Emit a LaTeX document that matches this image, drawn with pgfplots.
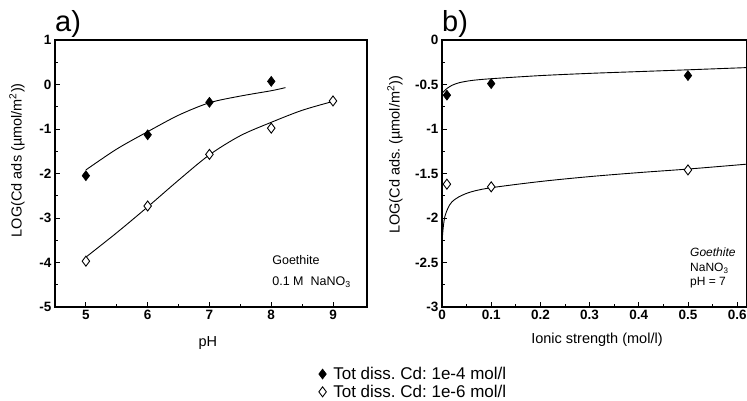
\documentclass[border=0pt]{standalone}
\usepackage{pgfplots}
\pgfplotsset{compat=1.18}
\usepackage{fontspec}
\setmainfont{Liberation Sans}
\frenchspacing

\pgfplotstableread{
x y
5 -2.05
6 -1.13
7 -0.40
8 0.07
}\aFilled
\pgfplotstableread{
x y
5 -3.97
6 -2.73
7 -1.57
8 -0.98
9 -0.37
}\aOpen
\pgfplotstableread{
x y
5 -1.92
5.5 -1.45
6 -1.06
6.5 -0.69
7 -0.41
7.5 -0.26
8 -0.14
8.23 -0.07
}\aFilledFit
\pgfplotstableread{
x y
5 -3.88
5.5 -3.33
6 -2.75
6.5 -2.15
7 -1.58
7.5 -1.15
8 -0.85
8.5 -0.58
9 -0.38
}\aOpenFit
\pgfplotstableread{
x y
0.01 -0.62
0.1 -0.49
0.5 -0.40
}\bFilled
\pgfplotstableread{
x y
0.01 -1.62
0.1 -1.65
0.5 -1.46
}\bOpen
\pgfplotstableread{
x y
0.0 -0.60
0.005 -0.57
0.01 -0.545
0.02 -0.51
0.035 -0.48
0.06 -0.455
0.1 -0.435
0.2 -0.40
0.3 -0.375
0.4 -0.355
0.5 -0.335
0.62 -0.31
}\bFilledFit
\pgfplotstableread{
x y
0.001 -2.2
0.003 -2.08
0.006 -1.98
0.012 -1.89
0.02 -1.82
0.035 -1.76
0.06 -1.705
0.1 -1.66
0.2 -1.59
0.3 -1.535
0.4 -1.49
0.5 -1.45
0.62 -1.395
}\bOpenFit

\begin{document}
\begin{tikzpicture}
\useasboundingbox (0,0) rectangle (747pt,401pt);
\pgfplotsset{
  mystyle/.style={
    scale only axis, height=267pt,
    clip mode=individual,
    axis line style={line width=1.2pt},
    tick align=inside, xtick pos=bottom, ytick pos=left,
    major tick length=5pt, minor tick length=3pt,
    every tick/.style={black, line width=0.9pt},
    minor tick num=1,
    /pgf/number format/assume math mode=true,
    ticklabel style={font=\fontsize{13.5}{15}\selectfont\bfseries},
    label style={font=\fontsize{14.5}{17}\selectfont},
  },
  fitline/.style={black, line width=0.9pt, smooth, no marks},
  filledmk/.style={only marks, mark=diamond*, mark size=5pt, mark options={fill=black, draw=black, line width=0.6pt}},
  openmk/.style={only marks, mark=diamond*, mark size=5pt, mark options={fill=white, draw=black, line width=0.9pt}},
}
\begin{axis}[mystyle,
  at={(55pt,94pt)}, anchor=south west, width=312pt,
  xmin=4.5, xmax=9.55, ymin=-5, ymax=1,
  xtick={5,6,7,8,9}, ytick={-5,-4,-3,-2,-1,0,1},
  xlabel={pH},
  xlabel style={at={(axis description cs:0.49,-0.135)}, anchor=center},
  ylabel={LOG(Cd ads (µmol/m\textsuperscript{2}))},
  ylabel style={at={(axis description cs:-0.122,0.55)}, anchor=center},
  legend style={at={(axis description cs:0.845,-0.217)}, anchor=north west, draw=none, fill=none, inner sep=0pt,
    font=\fontsize{17}{19.5}\selectfont, legend cell align=left},
]
\addplot[fitline, forget plot] table {\aFilledFit};
\addplot[fitline, forget plot] table {\aOpenFit};
\addplot[filledmk] table {\aFilled};
\addlegendentry{\hspace{5pt}Tot diss. Cd: 1e-4 mol/l}
\addplot[openmk] table {\aOpen};
\addlegendentry{\hspace{5pt}Tot diss. Cd: 1e-6 mol/l}
\node[anchor=west, font=\fontsize{12.5}{14}\selectfont, inner sep=0pt] at (axis description cs:0.696,0.176) {Goethite};
\node[anchor=west, font=\fontsize{12.5}{14}\selectfont, inner sep=0pt] at (axis description cs:0.696,0.094) {0.1 M\ \ NaNO\textsubscript{3}};
\node[anchor=west, font=\fontsize{29}{32}\selectfont, inner sep=0pt] at (axis description cs:0,1.06) {a)};
\end{axis}

\begin{axis}[mystyle,
  at={(442pt,94pt)}, anchor=south west, width=305pt,
  xmin=0, xmax=0.62, ymin=-3, ymax=0,
  xtick={0,0.1,0.2,0.3,0.4,0.5,0.6}, ytick={-3,-2.5,-2,-1.5,-1,-0.5,0},
  xlabel={Ionic strength (mol/l)},
  xlabel style={at={(axis description cs:0.508,-0.124)}, anchor=center},
  ylabel={LOG(Cd ads. (µmol/m\textsuperscript{2}))},
  ylabel style={at={(axis description cs:-0.154,0.57)}, anchor=center},
]
\addplot[fitline] table {\bFilledFit};
\addplot[fitline] table {\bOpenFit};
\addplot[filledmk] table {\bFilled};
\addplot[openmk] table {\bOpen};
\node[anchor=west, font=\fontsize{12}{14}\selectfont\itshape, inner sep=0pt] at (axis description cs:0.813,0.206) {Goethite};
\node[anchor=west, font=\fontsize{12}{14}\selectfont, inner sep=0pt] at (axis description cs:0.813,0.146) {NaNO\textsubscript{3}};
\node[anchor=west, font=\fontsize{12}{14}\selectfont, inner sep=0pt] at (axis description cs:0.813,0.09) {pH = 7};
\node[anchor=west, font=\fontsize{29}{32}\selectfont, inner sep=0pt] at (axis description cs:0,1.06) {b)};
\end{axis}
\end{tikzpicture}
\end{document}
